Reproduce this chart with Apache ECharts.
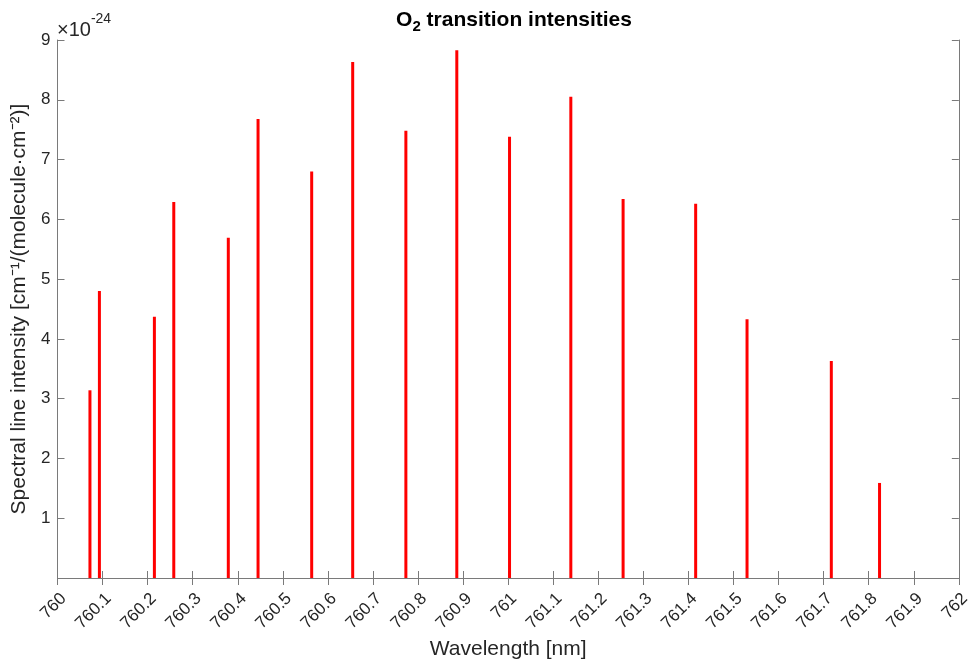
<!DOCTYPE html>
<html>
<head>
<meta charset="utf-8">
<script src="https://cdn.jsdelivr.net/npm/echarts@6/dist/echarts.min.js"></script>
<style>html,body{margin:0;padding:0;background:#fff}#c{width:973px;height:666px}</style>
</head>
<body>
<div id="c"></div>
<script>
const wavelengths = [760.072, 760.093, 760.215, 760.258, 760.379, 760.445, 760.564, 760.655, 760.773, 760.886, 761.003, 761.139, 761.255, 761.416, 761.530, 761.717, 761.824];
const intensities = [3.14, 4.80, 4.37, 6.29, 5.69, 7.68, 6.80, 8.63, 7.48, 8.83, 7.38, 8.05, 6.34, 6.26, 4.33, 3.63, 1.59];
const xTickMin = 760, xTickMax = 762, xTickStep = 0.1;
const yTickMin = 0, yTickMax = 9, yTickStep = 1;

const font = 'Helvetica, "Liberation Sans", Arial, sans-serif';
const txt = '#262626';
const axisCol = '#7a7a7a';
const chart = echarts.init(document.getElementById('c'), null, {renderer: 'canvas'});
const fmtX = v => parseFloat(v.toFixed(1)).toString();

chart.setOption({
  animation: false,
  grid: {left: 57.5, right: 13, top: 40, bottom: 88, containLabel: false},
  title: {
    text: '{b|O}{s|2}{b| transition intensities}',
    left: 509, textAlign: 'center', top: 2,
    textStyle: {
      rich: {
        b: {fontFamily: font, fontWeight: 'bold', fontSize: 21, color: '#000'},
        s: {fontFamily: font, fontWeight: 'bold', fontSize: 15, color: '#000', verticalAlign: 'bottom', padding: [12, 0, 0, 0]}
      }
    }
  },
  graphic: [{
    type: 'text', left: 57, top: 12,
    style: {
      text: '{a|×10}{e|-24}',
      rich: {
        a: {fontFamily: font, fontSize: 20, fill: txt, padding: [8, 0, 0, 0]},
        e: {fontFamily: font, fontSize: 14, fill: txt, verticalAlign: 'top'}
      }
    }
  }],
  xAxis: [{
    type: 'value', min: xTickMin, max: xTickMax, interval: xTickStep,
    name: 'Wavelength [nm]', nameLocation: 'middle', nameGap: 61,
    nameTextStyle: {fontFamily: font, fontSize: 21, color: txt},
    axisLine: {show: true, lineStyle: {color: axisCol, width: 1}},
    axisTick: {show: true, inside: true, length: 7, lineStyle: {color: axisCol}},
    axisLabel: {rotate: 45, verticalAlign: 'top', fontFamily: font, fontSize: 17, color: txt, margin: 12, formatter: fmtX, showMinLabel: true, showMaxLabel: true},
    splitLine: {show: false}
  }, {
    type: 'value', position: 'top', min: xTickMin, max: xTickMax, interval: xTickStep,
    axisLine: {show: true, lineStyle: {color: axisCol, width: 1}},
    axisTick: {show: true, inside: true, length: 7, lineStyle: {color: axisCol}},
    axisLabel: {show: false}, splitLine: {show: false}
  }],
  yAxis: [{
    type: 'value', min: yTickMin, max: yTickMax, interval: yTickStep,
    name: 'Spectral line intensity [cm⁻¹/(molecule·cm⁻²)]', nameLocation: 'middle', nameGap: 24,
    nameTextStyle: {fontFamily: font, fontSize: 21, color: txt},
    axisLine: {show: true, lineStyle: {color: axisCol, width: 1}},
    axisTick: {show: true, inside: true, length: 7, lineStyle: {color: axisCol}},
    axisLabel: {fontFamily: font, fontSize: 17, color: txt, margin: 7, formatter: v => v === 0 ? '' : String(v)},
    splitLine: {show: false}
  }, {
    type: 'value', position: 'right', min: yTickMin, max: yTickMax, interval: yTickStep,
    axisLine: {show: true, lineStyle: {color: axisCol, width: 1}},
    axisTick: {show: true, inside: true, length: 7, lineStyle: {color: axisCol}},
    axisLabel: {show: false}, splitLine: {show: false}
  }],
  series: [{
    type: 'bar', xAxisIndex: 0, yAxisIndex: 0,
    barWidth: 3,
    itemStyle: {color: '#ff0000'},
    data: wavelengths.map((w, i) => [w, intensities[i]])
  }]
});
</script>
</body>
</html>
